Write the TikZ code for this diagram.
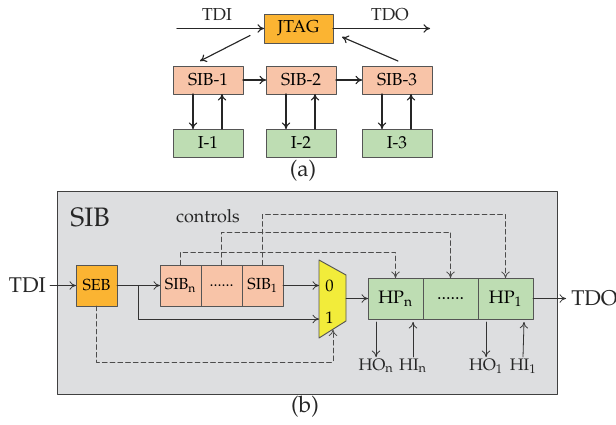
\documentclass[tikz,border=0pt]{standalone}
\usepackage[T1]{fontenc}
\usepackage{mathpazo}
\usepackage{xcolor}
\definecolor{jtorange}{HTML}{FBB432}
\definecolor{jtsalmon}{HTML}{F8C4A8}
\definecolor{jtgreen}{HTML}{BEDDB3}
\definecolor{jtyellow}{HTML}{F2EC3A}
\definecolor{jtpanel}{HTML}{DDDEE0}
\definecolor{jtedge}{HTML}{555555}
\usepackage{tikz}
\usetikzlibrary{arrows.meta,calc,positioning}
\tikzset{
  >={To[length=1.7mm,width=2.2mm]},
  every picture/.style={line cap=round, line join=round},
  lbl/.style={font=\fontsize{12.5}{14}\selectfont, inner sep=1pt, text=black!85},
  biglbl/.style={font=\fontsize{17}{19}\selectfont, inner sep=1pt, text=black!85},
  portlbl/.style={font=\fontsize{16}{18}\selectfont, inner sep=0pt, text=black!85},
  boxa/.style={draw=jtedge, line width=0.7pt, inner sep=0pt, outer sep=0pt,
    minimum width=52.5pt, minimum height=21pt, font=\fontsize{13}{15}\selectfont},
  jtagbox/.style={boxa, fill=jtorange, minimum width=51.75pt, minimum height=21.75pt},
  sibbox/.style={boxa, fill=jtsalmon},
  instbox/.style={boxa, fill=jtgreen},
  cell/.style={draw=jtedge, line width=0.7pt, inner sep=0pt, outer sep=0pt,
    minimum width=30.75pt, minimum height=30.75pt, font=\fontsize{12}{14}\selectfont},
  hpcell/.style={cell, fill=jtgreen, minimum width=41.25pt, font=\fontsize{13.5}{15}\selectfont},
  wire/.style={black!85, line width=0.85pt, ->},
  bwire/.style={black!80, line width=0.6pt, ->},
  ctl/.style={black!70, line width=0.6pt, dash pattern=on 3.6pt off 2.2pt, ->},
  panel/.style={fill=jtpanel, draw=black!75, line width=0.7pt},
}

\begin{document}
\begin{tikzpicture}[x=0.75pt, y=-0.75pt]
\useasboundingbox (0,0) rectangle (616,424);
% (a) JTAG with three SIBs
\node[jtagbox] (jtag) at (298.5,28.5) {JTAG};
\node[lbl, font=\fontsize{13}{15}\selectfont] (tdia) at (217,15) {TDI};
\node[lbl, font=\fontsize{13}{15}\selectfont] (tdoa) at (390,15) {TDO};
\coordinate (tdiin) at (177,28.5);
\coordinate (tdoout) at (430,28.5);
\draw[wire] (tdiin) -- (jtag.west);
\draw[wire] (jtag.east) -- (tdoout);
\foreach \k/\x in {1/208,2/301,3/397}{
  \node[sibbox] (sib\k) at (\x,80) {SIB-\k};
  \node[instbox] (i\k) at (\x,143) {I-\k};
  \draw[wire] ($(sib\k.south)+(-15,0)$) -- ($(i\k.north)+(-15,0)$);
  \draw[wire] ($(i\k.north)+(14,0)$) -- ($(sib\k.south)+(14,0)$);
}
\draw[wire] (sib1) -- (sib2);
\draw[wire] (sib2) -- (sib3);
\draw[wire] ($(jtag.west)+(-14,7)$) -- ($(sib1.north west)+(27,-5)$);
\draw[wire] ($(sib3.north)+(1,-5)$) -- ($(jtag.south east)+(9,-6)$);
\node[biglbl] (capa) at (303,171) {(a)};

% (b) inside one SIB
\draw[panel] (57,191) rectangle (557,394);
\node[font=\fontsize{20}{22}\selectfont, inner sep=0pt, text=black!85] (sibtitle) at (90,218) {SIB};
\node[font=\fontsize{13.5}{15}\selectfont, inner sep=0pt, text=black!85] (ctrl) at (208,216) {controls};
\node[portlbl, anchor=east] (tdib) at (46,285.5) {TDI};
\node[cell, fill=jtorange] (seb) at (96.5,285.5) {SEB};
\node[cell, fill=jtsalmon] (sibn) at (180.5,285.5) {SIB$_\mathrm{n}$};
\node[cell, fill=jtsalmon, right=0pt of sibn] (sibdots) {......};
\node[cell, fill=jtsalmon, right=0pt of sibdots] (sibone) {SIB$_1$};
\node[hpcell] (hpn) at (395.5,298.5) {HP$_\mathrm{n}$};
\node[hpcell, right=0pt of hpn] (hpdots) {......};
\node[hpcell, right=0pt of hpdots] (hpone) {HP$_1$};
\node[portlbl, anchor=west] (tdob) at (571,298.5) {TDO};
% multiplexer
\coordinate (muxtl) at (319,260);
\coordinate (muxtr) at (346,275);
\coordinate (muxbr) at (346,321);
\coordinate (muxbl) at (319,338);
\draw[fill=jtyellow, draw=jtedge, line width=0.7pt] (muxtl) -- (muxtr) -- (muxbr) -- (muxbl) -- cycle;
\coordinate (muxa) at (319,285.5);
\coordinate (muxb) at (319,319);
\coordinate (muxo) at (346,298.5);
\coordinate (muxsel) at (333,329.5);
\node[font=\fontsize{12.5}{14}\selectfont, inner sep=0pt] (zero) at (329.5,285.5) {0};
\node[font=\fontsize{12.5}{14}\selectfont, inner sep=0pt] (one) at (329.5,318) {1};
% data path
\draw[bwire] ($(tdib.east)+(4,0)$) -- (seb.west);
\draw[bwire] (seb.east) -- (sibn.west);
\coordinate (bypass) at ($(seb.east)!0.5!(sibn.west)$);
\draw[bwire] (bypass) |- (muxb);
\draw[bwire] (sibone.east) -- (muxa);
\draw[bwire] (muxo) -- (hpn.west);
\draw[bwire] (hpone.east) -- ($(tdob.west)+(-5,0)$);
% select and control lines
\draw[ctl] (seb.south) -- ++(0,56) -| (muxsel);
\foreach \s/\h/\u in {sibn/hpn/13, sibdots/hpdots/33, sibone/hpone/51}
  \draw[ctl] (\s.north) -- ++(0,-\u) -| (\h.north);
% host ports
\node[lbl, anchor=north] (hon) at (376,357) {HO$_\mathrm{n}$};
\node[lbl, anchor=north] (hin) at (413,357) {HI$_\mathrm{n}$};
\node[lbl, anchor=north] (hoone) at (486,357) {HO$_1$};
\node[lbl, anchor=north] (hione) at (523,357) {HI$_1$};
\draw[bwire] ($(hpn.south west)+(8,3)$) -- (hon.north);
\draw[bwire] (hin.north) -- ($(hpn.south east)+(-10,3)$);
\draw[bwire] ($(hpone.south west)+(8,3)$) -- (hoone.north);
\draw[bwire] (hione.north) -- ($(hpone.south east)+(-9,3)$);
\node[biglbl] (capb) at (305,407) {(b)};
\end{tikzpicture}
\end{document}
